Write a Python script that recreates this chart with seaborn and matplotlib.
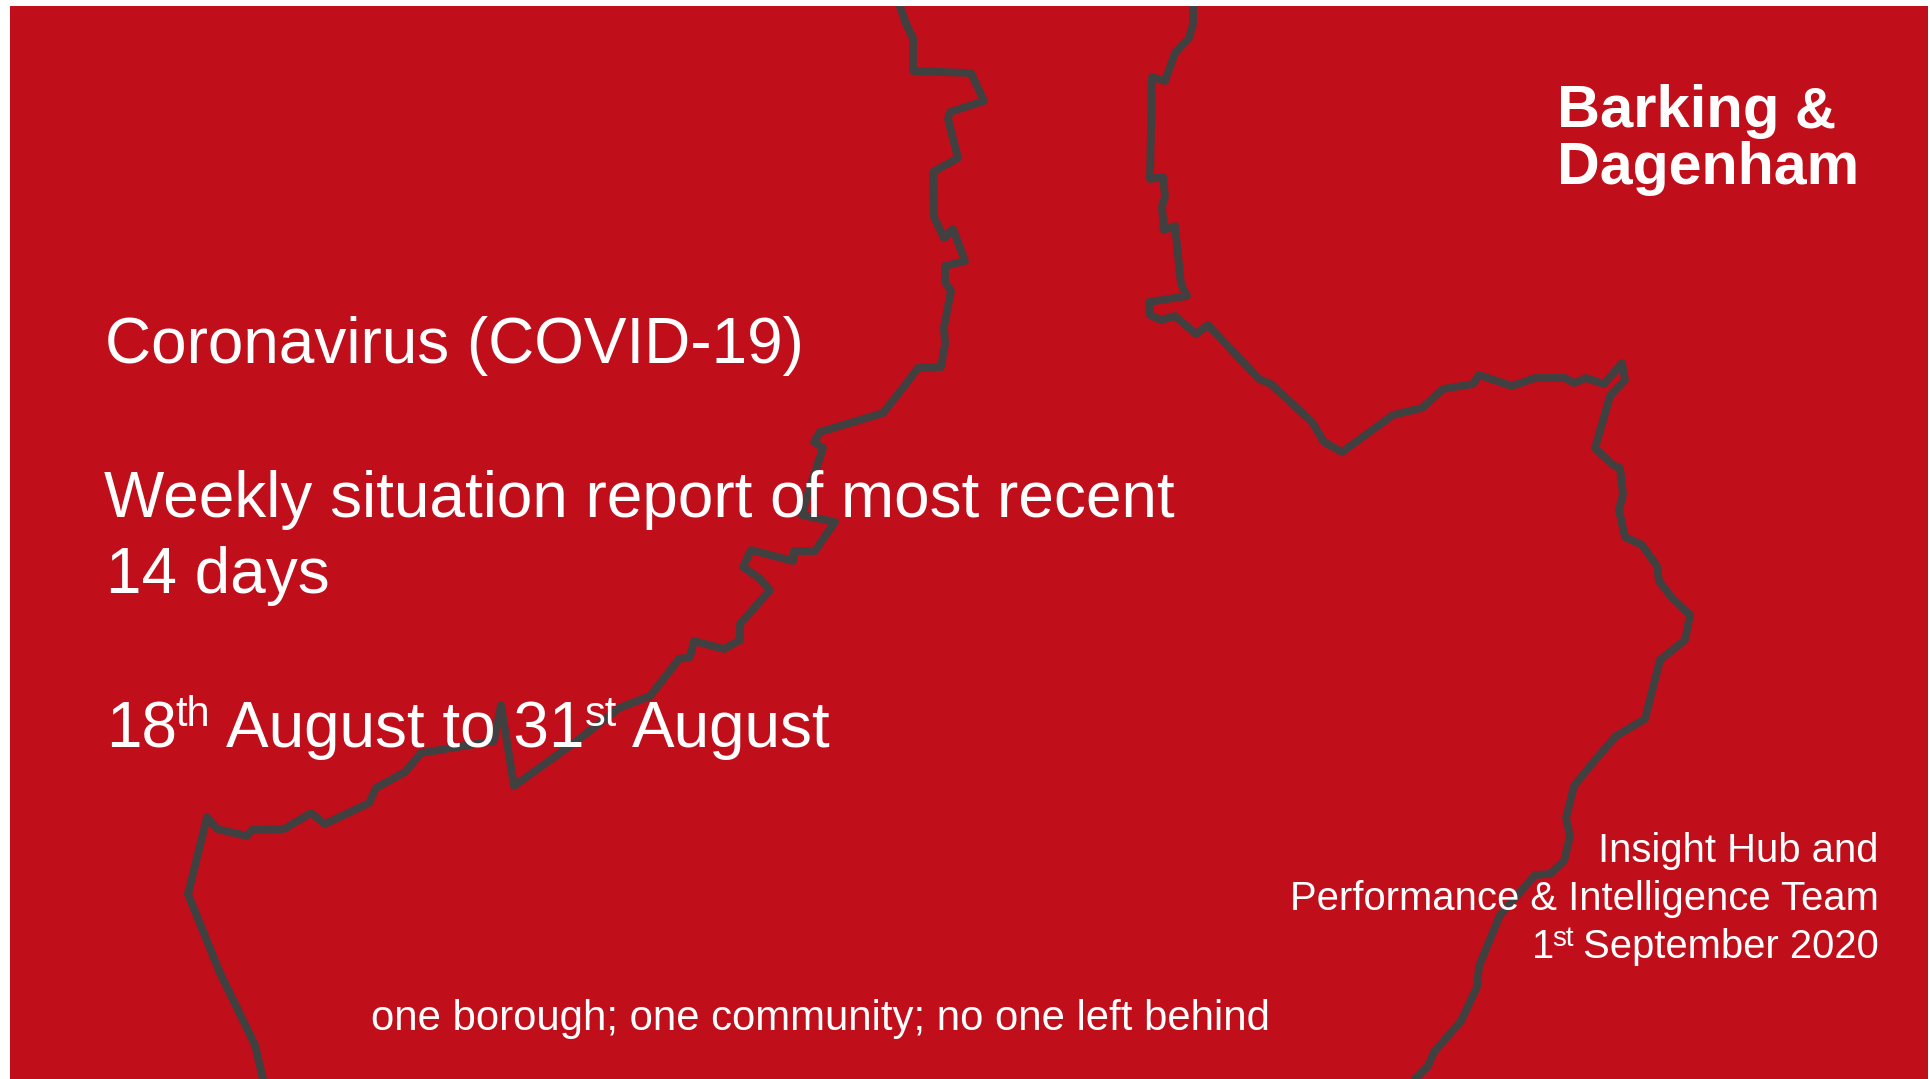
import pandas as pd
import matplotlib
matplotlib.use("Agg")
import matplotlib.pyplot as plt
import seaborn as sns

# Borough boundary, west side (pixels)
west_x = [900, 906, 913, 913, 971, 984, 950, 948, 958, 933, 934, 944, 953, 965, 945, 945, 951,
          944, 945, 941, 918, 902, 883, 820, 814, 823, 807, 802, 835, 823, 815, 794, 793, 751,
          743, 759, 770, 740, 740, 724, 694, 690, 679, 650, 619, 574, 514, 501, 494, 421, 405,
          376, 369, 325, 311, 284, 252, 247, 217, 207, 188, 220, 255, 263]
west_y = [6, 24, 38, 71, 73, 101, 112, 119, 158, 172, 217, 238, 229, 261, 266, 282, 291,
          327, 344, 367, 368, 389, 413, 432, 442, 448, 496, 515, 522, 539, 551, 551, 561, 550,
          567, 578, 590, 624, 640, 649, 641, 657, 659, 696, 708, 743, 786, 705, 741, 753, 772,
          788, 803, 824, 813, 829, 830, 836, 829, 817, 894, 973, 1045, 1079]

# Borough boundary, east side
east_x = [1193, 1193, 1189, 1175, 1165, 1152, 1150, 1163, 1165, 1162, 1164, 1175, 1181, 1187,
          1149, 1150, 1161, 1175, 1196, 1208, 1259, 1271, 1312, 1324, 1342, 1393, 1422, 1443,
          1473, 1479, 1512, 1535, 1565, 1574, 1586, 1604, 1622, 1625, 1610, 1595, 1613, 1620,
          1623, 1619, 1625, 1642, 1657, 1659, 1672, 1690, 1685, 1660, 1645, 1616, 1595, 1574,
          1566, 1570, 1564, 1550, 1535, 1515, 1500, 1479, 1477, 1461, 1434, 1428, 1415]
east_y = [6, 24, 38, 53, 81, 77, 179, 177, 196, 207, 230, 226, 284, 296,
          302, 315, 320, 316, 334, 325, 379, 384, 422, 442, 452, 415, 408, 389,
          384, 375, 386, 378, 378, 383, 378, 384, 363, 380, 396, 448, 465, 468,
          494, 510, 537, 545, 566, 581, 598, 615, 640, 660, 719, 736, 760, 786,
          818, 836, 861, 874, 875, 898, 915, 966, 987, 1021, 1052, 1066, 1079]

RED = "#C00E1A"
GREY = "#404040"

sns.set_theme(style="white")
plt.rcParams["font.family"] = ["Liberation Sans", "DejaVu Sans"]

fig = plt.figure(figsize=(19.31, 10.79), dpi=100, facecolor="white")
ax = fig.add_axes([10 / 1931, 0, 1918 / 1931, 1073 / 1079])
ax.set_facecolor(RED)

# one frame per side of the boundary, drawn with seaborn
west = pd.DataFrame({"x": west_x, "y": west_y})
east = pd.DataFrame({"x": east_x, "y": east_y})
for side in [west, east]:
    sns.lineplot(data=side, x="x", y="y", sort=False, estimator=None, color=GREY,
                 linewidth=5.6, ax=ax, solid_joinstyle="round", legend=False)

ax.set_xlim(10, 1928)
ax.set_ylim(1079, 6)
ax.set_axis_off()
ax.add_patch(plt.Rectangle((10, 6), 1918, 1073, color=RED, zorder=0))


def put(x, y, s, size, ha="left", weight="normal"):
    ax.text(x, y, s, color="white", fontsize=size, ha=ha, va="baseline", fontweight=weight, zorder=5)


# main title block
put(105, 363, "Coronavirus (COVID-19)", 46)
put(104, 517, "Weekly situation report of most recent", 46)
put(106, 593, "14 days", 46)
put(106, 747, "18", 46)
put(175, 726, "th", 30)
put(226, 747, "August to 31", 46)
put(585, 726, "st", 30)
put(632, 747, "August", 46)

# logo
put(1557, 127, "Barking", 43, weight="bold")
put(1795, 127, "&", 41, weight="bold")
put(1557, 184, "Dagenham", 42.6, weight="bold")

# footer
put(371, 1030, "one borough; one community; no one left behind", 30.2)
put(1879, 862, "Insight Hub and", 28.8, ha="right")
put(1879, 910, "Performance & Intelligence Team", 28.8, ha="right")
put(1879, 958, "September 2020", 28.8, ha="right")
put(1532, 958, "1", 28.8)
put(1552, 946, "st", 20)

fig.savefig("out.png", dpi=100, facecolor="white")
